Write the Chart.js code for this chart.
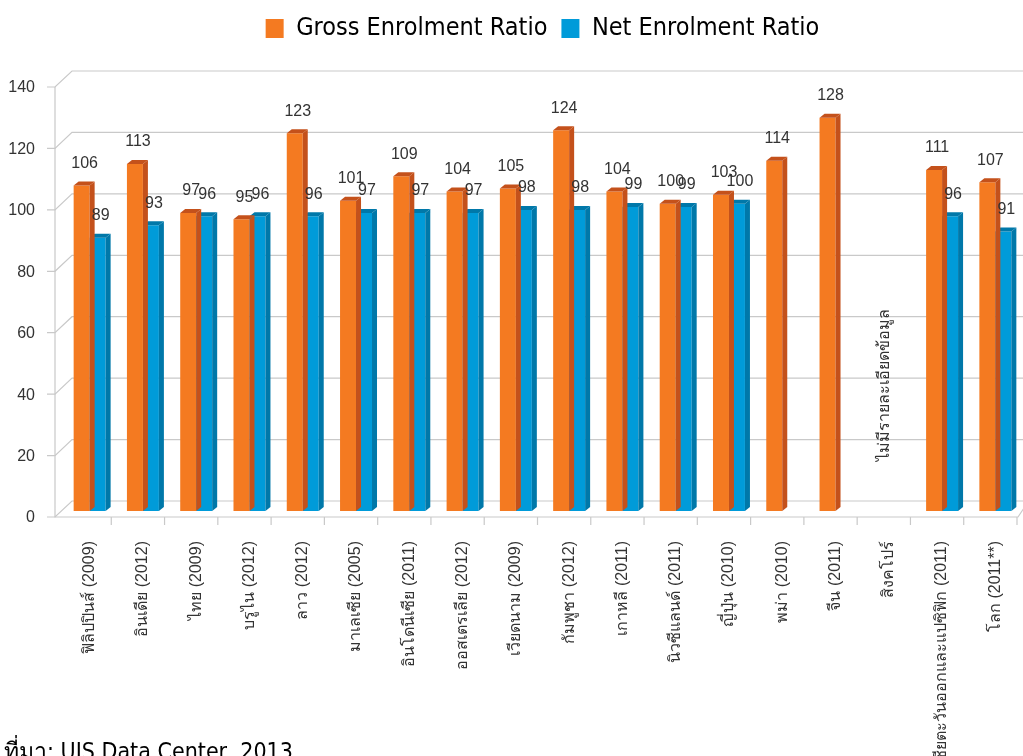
<!DOCTYPE html>
<html lang="th">
<head>
<meta charset="UTF-8">
<title>Gross and Net Enrolment Ratio</title>
<style>
  html, body { margin: 0; padding: 0; background: #fff; }
  #wrap { position: relative; width: 1023px; height: 756px; overflow: hidden; }
  #source {
    position: absolute;
    left: 4px;
    top: 733px;
    font: 23px 'DejaVu Sans Condensed', 'DejaVu Sans', 'Noto Sans', sans-serif;
    color: #000;
    white-space: nowrap;
  }
</style>
</head>
<body>
<div id="wrap">
  <canvas id="enrolChart" width="1023" height="756"></canvas>
  <div id="source">ที่มา: UIS Data Center, 2013</div>
</div>
<script src="https://cdn.jsdelivr.net/npm/chart.js"></script>
<script>
  var countries = [
    'ฟิลิปปินส์ (2009)', 'อินเดีย (2012)', 'ไทย (2009)', 'บรูไน (2012)', 'ลาว (2012)',
    'มาเลเซีย (2005)', 'อินโดนีเซีย (2011)', 'ออสเตรเลีย (2012)', 'เวียดนาม (2009)',
    'กัมพูชา (2012)', 'เกาหลี (2011)', 'นิวซีแลนด์ (2011)', 'ญี่ปุ่น (2010)', 'พม่า (2010)',
    'จีน (2011)', 'สิงคโปร์', 'เอเชียตะวันออกและแปซิฟิก (2011)', 'โลก (2011**)'
  ];
  var grossRatio = [106, 113, 97, 95, 123, 101, 109, 104, 105, 124, 104, 100, 103, 114, 128, null, 111, 107];
  var netRatio   = [89, 93, 96, 96, 96, 97, 97, 97, 98, 98, 99, 99, 100, null, null, null, 96, 91];
  var yTicks = [0, 20, 40, 60, 80, 100, 120, 140];
  var noDataIndex = 15;
  var noDataText = 'ไม่มีรายละเอียดข้อมูล';

  var faceColors = ['#c4511b', '#0078a9'];

  // fake 3D: walls, gridlines, bar sides and value labels
  var box3d = {
    id: 'box3d',
    beforeInit: function(chart) {
      // leave room between legend and plot like the original
      var fit = chart.legend.fit;
      chart.legend.fit = function() {
        fit.call(this);
        this.height += 30;
      };
    },
    beforeDatasetsDraw: function(chart) {
      var ctx = chart.ctx, area = chart.chartArea;
      var yS = chart.scales.y;
      var fx = area.left - 8, bx = area.left + 9, fy = 6, by = -10;
      ctx.save();
      ctx.strokeStyle = '#c9c9c9';
      ctx.lineWidth = 1.2;
      yTicks.forEach(function(v) {
        var p = yS.getPixelForValue(v);
        ctx.beginPath();
        ctx.moveTo(fx - 8, p + fy);
        ctx.lineTo(fx, p + fy);
        ctx.lineTo(bx, p + by);
        ctx.lineTo(chart.width, p + by);
        ctx.stroke();
      });
      var p0 = yS.getPixelForValue(0);
      var pTop = yS.getPixelForValue(yTicks[yTicks.length - 1]);
      ctx.beginPath();
      ctx.moveTo(fx, pTop + fy);
      ctx.lineTo(fx, p0 + fy);
      ctx.lineTo(area.right - 4, p0 + fy);
      ctx.lineTo(area.right + 4, p0 + by + 4);
      ctx.stroke();
      var step = area.width / countries.length;
      for (var i = 1; i <= countries.length; i++) {
        var tx = area.left + i * step - 5;
        ctx.beginPath();
        ctx.moveTo(tx, p0 + fy);
        ctx.lineTo(tx, p0 + fy + 8);
        ctx.stroke();
      }
      ctx.restore();
    },
    afterDatasetDraw: function(chart, args) {
      var ctx = chart.ctx, d = 5, dv = 4;
      var values = chart.data.datasets[args.index].data;
      ctx.save();
      ctx.fillStyle = faceColors[args.index];
      args.meta.data.forEach(function(bar, i) {
        if (values[i] == null) return;
        var xl = bar.x - bar.width / 2, xr = bar.x + bar.width / 2;
        ctx.beginPath();
        ctx.moveTo(xr, bar.y);
        ctx.lineTo(xr + d, bar.y - dv);
        ctx.lineTo(xr + d, bar.base - dv);
        ctx.lineTo(xr, bar.base);
        ctx.closePath();
        ctx.fill();
        ctx.beginPath();
        ctx.moveTo(xl, bar.y);
        ctx.lineTo(xl + d, bar.y - dv);
        ctx.lineTo(xr + d, bar.y - dv);
        ctx.lineTo(xr, bar.y);
        ctx.closePath();
        ctx.fill();
      });
      ctx.restore();
    },
    afterDatasetsDraw: function(chart) {
      var ctx = chart.ctx;
      ctx.save();
      ctx.fillStyle = '#333';
      ctx.font = '16px "Liberation Sans", Arial, sans-serif';
      ctx.textAlign = 'center';
      ctx.textBaseline = 'bottom';
      chart.data.datasets.forEach(function(ds, di) {
        chart.getDatasetMeta(di).data.forEach(function(bar, i) {
          var v = ds.data[i];
          if (v == null) return;
          ctx.fillText(String(v), bar.x + 3, bar.y - 14);
        });
      });
      var nx = chart.scales.x.getPixelForValue(noDataIndex) - 4;
      var ny = chart.scales.y.getPixelForValue(41);
      ctx.translate(nx, ny);
      ctx.rotate(-Math.PI / 2);
      ctx.font = '16px "Liberation Sans", Arial, sans-serif';
      ctx.textBaseline = 'middle';
      ctx.fillText(noDataText, 0, 0);
      ctx.restore();
    }
  };

  var ctx = document.getElementById('enrolChart').getContext('2d');
  var chart = new Chart(ctx, {
    type: 'bar',
    data: {
      labels: countries,
      datasets: [{
        label: 'Gross Enrolment Ratio',
        data: grossRatio,
        backgroundColor: '#f47a21',
        borderWidth: 0
      }, {
        label: 'Net Enrolment Ratio',
        data: netRatio,
        backgroundColor: '#009bd9',
        borderWidth: 0
      }]
    },
    options: {
      responsive: false,
      animation: false,
      layout: { padding: { top: 2, right: 1, left: 0, bottom: 0 } },
      datasets: { bar: { categoryPercentage: 0.6, barPercentage: 1.0 } },
      scales: {
        x: {
          grid: { display: false, drawTicks: false },
          border: { display: false },
          ticks: {
            autoSkip: false,
            maxRotation: 90,
            minRotation: 90,
            padding: 30,
            color: '#333',
            font: { family: '"Liberation Sans", Arial, sans-serif', size: 16 }
          },
          afterFit: function(scale) {
            scale.height = 245;
            scale.paddingLeft = 0;
            scale.paddingRight = 0;
          }
        },
        y: {
          min: 0,
          max: 140,
          grid: { display: false, drawTicks: false },
          border: { display: false },
          ticks: {
            stepSize: 20,
            padding: 28,
            labelOffset: 7,
            color: '#333',
            font: { family: '"Liberation Sans", Arial, sans-serif', size: 16 }
          },
          afterFit: function(scale) { scale.width = 63; }
        }
      },
      plugins: {
        legend: {
          position: 'top',
          fullSize: false,
          labels: {
            boxWidth: 18,
            boxHeight: 19,
            padding: 14,
            color: '#000',
            font: { family: '"DejaVu Sans Condensed", "DejaVu Sans", sans-serif', size: 25 }
          }
        },
        tooltip: { enabled: false }
      }
    },
    plugins: [box3d]
  });
</script>
</body>
</html>
